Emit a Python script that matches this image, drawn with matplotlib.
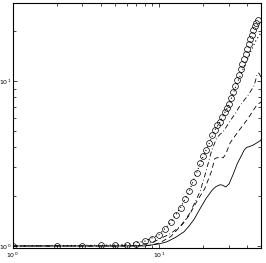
import numpy as np
import matplotlib
matplotlib.use("Agg")
import matplotlib.pyplot as plt

# circles (markers only), x = 1..47
circ_x = np.arange(1, 48)
circ_y = [1.0, 1.0, 1.0, 1.01, 1.02, 1.02, 1.03, 1.07, 1.11, 1.17,
          1.26, 1.39, 1.54, 1.71, 1.92, 2.14, 2.46, 2.78, 3.17, 3.51,
          3.84, 4.2, 4.72, 5.07, 5.43, 5.66, 6.07, 6.46, 6.84, 7.28,
          7.9, 8.6, 9.36, 10.1, 10.9, 11.8, 12.7, 13.7, 14.6, 15.7,
          16.8, 17.9, 19.1, 20.3, 21.5, 22.6, 23.6]

# dotted line
dot_x = [1, 4, 6, 8, 10, 12, 14, 16, 18, 20, 22, 24, 26, 28, 30, 32, 34, 36, 38, 40, 43, 46, 50]
dot_y = [1.0, 1.01, 1.02, 1.07, 1.17, 1.39, 1.71, 2.14, 2.78, 3.5, 4.2, 5.05, 5.64, 6.43, 7.2,
         8.4, 9.7, 10.9, 12.3, 13.5, 15.7, 17.8, 19.9]

# dash-dot line
dd_x = [1, 5, 7, 9, 12, 14, 16.2, 17.5, 19, 20.5, 22, 22.7, 24.6, 26, 27.4, 29, 30.5, 33,
        34.8, 37, 40.6, 42.5, 44.3, 45.5, 46.5, 47.8, 48.7, 50]
dd_y = [1.0, 1.0, 1.01, 1.05, 1.19, 1.32, 1.58, 1.83, 2.13, 2.67, 3.36, 3.72, 4.49, 4.75, 4.95,
        5.34, 5.74, 6.33, 6.86, 7.42, 8.24, 8.8, 9.34, 10.1, 10.9, 11.2, 10.9, 10.3]

# dashed line
da_x = [1, 6, 8.6, 10, 12, 14.6, 16, 18, 20.5, 22.7, 24, 26, 27.3, 28.5, 30.5, 34.6, 39.8,
        44.2, 46.5, 50]
da_y = [1.0, 1.0, 1.01, 1.04, 1.14, 1.37, 1.53, 1.85, 2.23, 2.82, 3.39, 3.47, 3.42, 3.61,
        4.22, 4.94, 5.82, 6.7, 7.18, 7.5]

# solid line
so_x = [1, 5, 8, 10, 11.3, 13, 14.8, 16, 17.4, 19, 20.9, 23, 24.4, 26, 27, 28.5, 30, 32,
        34.2, 36, 38, 39.5, 41, 43, 45, 47, 49, 50]
so_y = [1.0, 1.0, 1.0, 1.03, 1.06, 1.13, 1.22, 1.32, 1.46, 1.68, 1.94, 2.18, 2.29, 2.35,
        2.34, 2.28, 2.38, 2.72, 3.17, 3.46, 3.81, 3.96, 4.0, 4.06, 4.15, 4.25, 4.35, 4.45]

fig = plt.figure(figsize=(2.66, 2.63), dpi=100)
ax = fig.add_axes([0.047, 0.057, 0.934, 0.933])

lw = 0.6
ax.plot(so_x, so_y, '-', color='k', lw=lw)
ax.plot(da_x, da_y, color='k', lw=lw, dashes=(6, 4))
ax.plot(dd_x, dd_y, color='k', lw=lw, dashes=(6, 3, 1, 3))
ax.plot(dot_x, dot_y, color='k', lw=0.8, dashes=(1, 2.5))
ax.plot(circ_x, circ_y, 'o', mfc='none', mec='k', ms=4.2, mew=0.5)

ax.set_xscale('log')
ax.set_yscale('log')
ax.set_xlim(1, 49.5)
ax.set_ylim(0.972, 29.9)

ax.tick_params(which='both', direction='in', top=True, right=True, labelsize=4.5)
ax.tick_params(axis='y', pad=0.5)
ax.tick_params(axis='x', pad=2)
ax.tick_params(which='major', length=3, width=0.5)
ax.tick_params(which='minor', length=2, width=0.5)
for s in ax.spines.values():
    s.set_linewidth(0.8)

fig.savefig('out.png', dpi=100)
